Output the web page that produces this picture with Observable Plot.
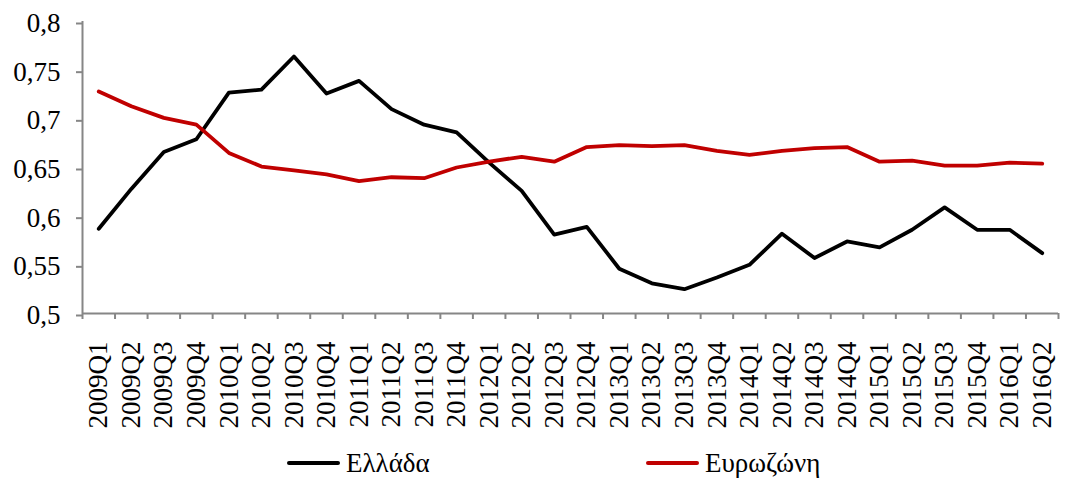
<!DOCTYPE html>
<html><head><meta charset="utf-8">
<script src="https://cdn.jsdelivr.net/npm/d3@7"></script>
<script src="https://cdn.jsdelivr.net/npm/@observablehq/plot@0.6"></script>
<style>
body{margin:0;background:#fff;}
#chart{width:1068px;height:478px;position:relative;font-family:"Liberation Serif",serif;background:#fff;}
#chart svg{display:block;}
.legend{position:absolute;top:445px;left:0;width:1068px;height:36px;}
.item{position:absolute;top:0;display:flex;align-items:center;height:36px;font-size:27px;color:#000;white-space:nowrap;}
.sw{display:inline-block;width:53px;height:4px;margin-right:6px;border-radius:2px;}
</style></head><body><div id="chart"></div>
<script>
const quarters = ["2009Q1","2009Q2","2009Q3","2009Q4","2010Q1","2010Q2","2010Q3","2010Q4","2011Q1","2011Q2","2011Q3","2011Q4","2012Q1","2012Q2","2012Q3","2012Q4","2013Q1","2013Q2","2013Q3","2013Q4","2014Q1","2014Q2","2014Q3","2014Q4","2015Q1","2015Q2","2015Q3","2015Q4","2016Q1","2016Q2"];
const greece = [0.587,0.628,0.666,0.679,0.727,0.730,0.764,0.726,0.739,0.710,0.694,0.686,0.655,0.626,0.581,0.589,0.546,0.531,0.525,0.537,0.550,0.582,0.557,0.574,0.568,0.586,0.609,0.586,0.586,0.562];
const eurozone = [0.728,0.713,0.701,0.694,0.665,0.651,0.647,0.643,0.636,0.640,0.639,0.650,0.656,0.661,0.656,0.671,0.673,0.672,0.673,0.667,0.663,0.667,0.670,0.671,0.656,0.657,0.652,0.652,0.655,0.654];
const seriesNames = ["Ελλάδα","Ευρωζώνη"];
const seriesColors = ["#000000","#C00000"];
const yTicks = [0.5,0.55,0.6,0.65,0.7,0.75,0.8];

const rows = [];
quarters.forEach((q,i)=>{
  rows.push({i, q, series: seriesNames[0], value: greece[i]});
  rows.push({i, q, series: seriesNames[1], value: eurozone[i]});
});
const axisGray = "#868686";
const n = quarters.length;

const plot = Plot.plot({
  width:1068, height:440,
  marginLeft:82, marginRight:10, marginTop:21, marginBottom:127,
  style:{fontFamily:"Liberation Serif, serif", background:"#fff", overflow:"visible"},
  x:{domain:[-0.5, n-0.5]},
  y:{domain:[yTicks[0], yTicks[yTicks.length-1]]},
  color:{domain:seriesNames, range:seriesColors},
  marks:[
    Plot.axisY(yTicks,{tickSize:6, tickPadding:16, fontSize:27, tickFormat:d=>String(d).replace(".",","), stroke:axisGray, strokeWidth:2, fill:"#000", label:null, dy:2}),
    Plot.axisX(d3.range(n+1).map(i=>i-0.5),{tickSize:6, tickFormat:()=>"", stroke:axisGray, strokeWidth:2, label:null}),
    Plot.axisX(d3.range(n),{tickSize:0, tickPadding:28, tickRotate:-90, tickFormat:i=>quarters[i], fontSize:27, fill:"#000", label:null}),
    Plot.ruleX([-0.5],{y1:yTicks[0], y2:yTicks[yTicks.length-1], stroke:axisGray, strokeWidth:2}),
    Plot.ruleY([yTicks[0]],{stroke:axisGray, strokeWidth:2}),
    Plot.lineY(rows,{x:"i", y:"value", stroke:"series", z:"series", strokeWidth:3.8})
  ]
});
const chart = document.getElementById("chart");
chart.appendChild(plot);

const legend = document.createElement("div");
legend.className = "legend";
const lefts = [287, 646];
seriesNames.forEach((name,k)=>{
  const it = document.createElement("div");
  it.className = "item";
  it.style.left = lefts[k] + "px";
  const sw = document.createElement("span");
  sw.className = "sw";
  sw.style.background = seriesColors[k];
  it.appendChild(sw);
  it.appendChild(document.createTextNode(name));
  legend.appendChild(it);
});
chart.appendChild(legend);
</script></body></html>
